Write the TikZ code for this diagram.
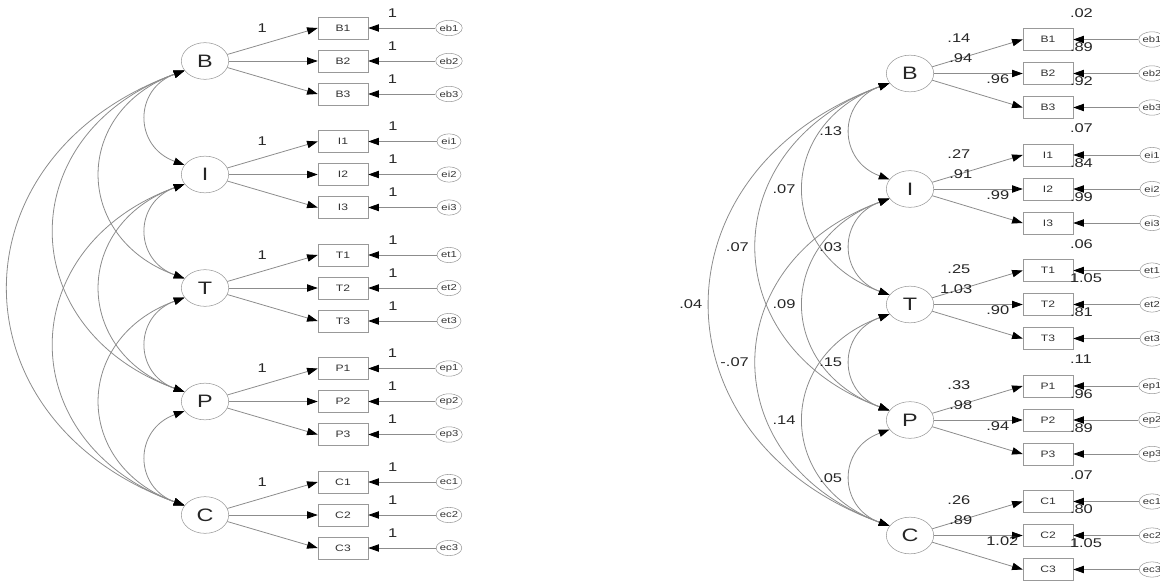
\documentclass[tikz,border=0pt]{standalone}
\usepackage{fontspec}
\setmainfont[FakeStretch=1.3]{Liberation Sans}
\usetikzlibrary{arrows.meta,shapes.geometric}

\tikzset{
  lat/.style={ellipse,draw=black!40,inner sep=0pt,minimum width=35.5pt,minimum height=27.5pt,
    text=black!85,font=\fontsize{13.5}{14}\selectfont},
  obs/.style={rectangle,draw=black!40,inner sep=0pt,minimum width=37.5pt,minimum height=16.5pt,
    text=black!80,font=\fontsize{7}{8}\selectfont},
  err/.style={ellipse,draw=black!40,inner sep=0pt,minimum width=18pt,minimum height=11.5pt,
    text=black!80,font=\fontsize{6.5}{7}\selectfont},
  load/.style={draw=black!45,line width=0.6pt,->},
  cov/.style={draw=black!45,line width=0.6pt,<->,out=200,in=160,looseness=1.47},
  est/.style={inner sep=1pt,text=black!85,font=\fontsize{9.5}{11}\selectfont}
}

\begin{document}
\begin{tikzpicture}[x=0.75pt,y=-0.75pt,>={Triangle[length=8pt,width=5.5pt,color=black]}]
\useasboundingbox (0,0) rectangle (1160,581);
\clip (0,0) rectangle (1160,581);

% unstandardized model
\foreach \f/\lc [count=\k from 0] in {B/b,I/i,T/t,P/p,C/c}{
  \pgfmathsetmacro{\yy}{61+113.5*\k}
  \node[lat] (\f) at (205,\yy) {\f};
  \foreach \j in {1,2,3}{
    \pgfmathsetmacro{\yj}{\yy+33*(\j-2)}
    \node[obs] (\f\j) at (343,\yj) {\f\j};
    \node[err] (e\lc\j) at (449,\yj) {e\lc\j};
    \draw[load] (e\lc\j) -- node[est,pos=0.64,yshift=11.25pt]{1} (\f\j.east);
  }
  \draw[load] (\f) -- node[est,pos=0.386,yshift=12.2pt]{1} (\f1.west);
  \draw[load] (\f) -- (\f2.west);
  \draw[load] (\f) -- (\f3.west);
}
\foreach \fa/\fb in {B/I,B/T,B/P,B/C,I/T,I/P,I/C,T/P,T/C,P/C}
  \draw[cov] (\fa.205) to (\fb.155);

% standardized estimates
\foreach \f/\lc/\va/\vb/\vc/\vr/\vea/\veb [count=\k from 0] in {B/b/.14/.94/.96/.02/.89/.92,
    I/i/.27/.91/.99/.07/.84/.99, T/t/.25/1.03/.90/.06/1.05/.81,
    P/p/.33/.98/.94/.11/.96/.89, C/c/.26/.89/1.02/.07/.80/1.05}{
  \pgfmathsetmacro{\yy}{73.5+115.5*\k}
  \node[lat] (s\f) at (910,\yy) {\f};
  \foreach \j in {1,2,3}{
    \pgfmathsetmacro{\yj}{\yy+34*(\j-2)}
    \node[obs] (s\f\j) at (1048,\yj) {\f\j};
    \node[err] (se\lc\j) at (1152,\yj) {e\lc\j};
  }
  \draw[load] (se\lc1) -- node[est,pos=1,anchor=west,xshift=-3.75pt,yshift=19.9pt]{\vr}
    node[est,pos=1,anchor=west,xshift=-3.75pt,yshift=-6pt]{\vea} (s\f1.east);
  \draw[load] (se\lc2) -- node[est,pos=1,anchor=west,xshift=-3.75pt,yshift=-6pt]{\veb} (s\f2.east);
  \draw[load] (se\lc3) -- (s\f3.east);
  \draw[load] (s\f) -- node[est,pos=0.44,anchor=east,yshift=12.3pt]{\va}
    node[est,pos=0.46,anchor=east,yshift=-3pt]{\vb} (s\f1.west);
  \draw[load] (s\f) -- node[est,pos=0.57,anchor=west,yshift=-4.5pt]{\vc} (s\f2.west);
  \draw[load] (s\f) -- (s\f3.west);
}
\foreach \fa/\fb/\vv in {B/I/.13,B/T/.07,B/P/.07,B/C/.04,I/T/.03,I/P/.09,I/C/-.07,T/P/.15,T/C/.14,P/C/.05}
  \draw[cov] (s\fa.205) to node[est,midway,left=5pt]{\vv} (s\fb.155);
\end{tikzpicture}
\end{document}
